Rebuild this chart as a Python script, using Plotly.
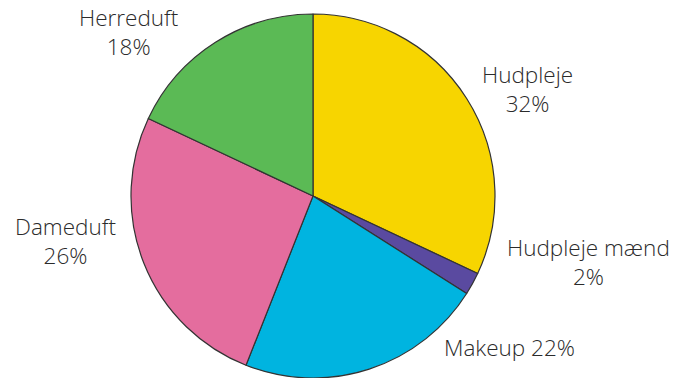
import plotly.graph_objects as go

categories = ["Hudpleje", "Hudpleje mænd", "Makeup", "Dameduft", "Herreduft"]
values = [32, 2, 22, 26, 18]
colors = ["#F7D500", "#5A4AA0", "#00B4E0", "#E46D9E", "#5BBA55"]
label_texts = ["Hudpleje<br>32%", "Hudpleje mænd<br>2%", "Makeup 22%", "Dameduft<br>26%", "Herreduft<br>18%"]
label_pos = [(527, 89), (588, 262), (509, 347), (65, 241), (128, 32)]

W, H = 679, 378
fig = go.Figure(go.Pie(
    labels=categories, values=values, sort=False, direction="clockwise", rotation=0,
    marker=dict(colors=colors, line=dict(color="#333333", width=1.2)),
    textinfo="none", hoverinfo="label+percent", showlegend=False,
    domain=dict(x=[(313 - 182) / W, (313 + 182) / W], y=[0, 364 / H]),
))
for txt, (px, py) in zip(label_texts, label_pos):
    fig.add_annotation(x=px / W, y=1 - py / H, xref="paper", yref="paper", text=txt,
                       showarrow=False, align="center", xanchor="center", yanchor="middle",
                       font=dict(family="Open Sans", size=22.5, color="#2b2b2b", weight=300))
fig.update_layout(width=W, height=H, margin=dict(l=0, r=0, t=0, b=0),
                  paper_bgcolor="white", plot_bgcolor="white")
fig.write_html("out.html")
